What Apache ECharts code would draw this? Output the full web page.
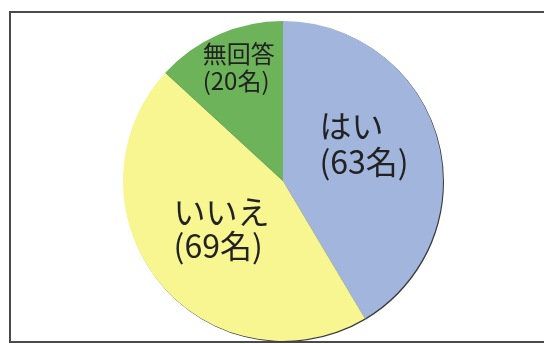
<!DOCTYPE html>
<html>
<head>
<meta charset="utf-8">
<script src="https://cdn.jsdelivr.net/npm/echarts@6/dist/echarts.min.js"></script>
<style>
  html, body { margin: 0; padding: 0; background: #fff; }
  #chart { width: 544px; height: 344px; }
</style>
</head>
<body>
<div id="chart"></div>
<script>
// Survey answers (people)
const categories = ['はい', 'いいえ', '無回答'];
const counts = [63, 69, 20];
const sliceColors = ['#a2b5dc', '#f8f690', '#6db35a'];

// Per-slice label nudges from the default inside position
const labelShift = [
  { dx: 1, dy: -15, size: 32, lh: 36 },
  { dx: 3, dy: -4, size: 32, lh: 34 },
  { dx: -11, dy: -38, size: 24, lh: 27 }
];

const pieData = categories.map((name, i) => {
  const s = labelShift[i];
  const line = { align: 'left', fontSize: s.size, lineHeight: s.lh, color: '#222222',
    fontFamily: '"Noto Sans CJK JP", "Noto Sans", sans-serif' };
  return {
    name: name,
    value: counts[i],
    itemStyle: { color: sliceColors[i] },
    label: { fontSize: s.size, lineHeight: s.lh, rich: { n: line, v: line } }
  };
});

const chart = echarts.init(document.getElementById('chart'), null, { renderer: 'canvas' });

chart.setOption({
  animation: false,
  backgroundColor: '#ffffff',
  graphic: [{
    type: 'rect',
    shape: { x: 10, y: 12, width: 600, height: 330 },
    style: { fill: 'none', stroke: '#4a4a4a', lineWidth: 2 },
    silent: true,
    z: 0
  }],
  series: [
    {
      // dark rim under the pie, offset to the lower right
      type: 'pie',
      silent: true,
      center: [284, 182],
      radius: 160,
      startAngle: 90,
      data: counts.map((v, i) => ({ name: categories[i], value: v })),
      itemStyle: { color: '#3a3a3a', borderWidth: 0 },
      label: { show: false },
      labelLine: { show: false },
      z: 1
    },
    {
      type: 'pie',
      center: [283, 181],
      radius: 160,
      startAngle: 90,
      clockwise: true,
      data: pieData,
      itemStyle: { borderWidth: 0 },
      label: {
        show: true,
        position: 'inside',
        formatter: '{n|{b}}\n{v|({c}名)}',
        verticalAlign: 'middle',
        color: '#222222',
        fontFamily: '"Noto Sans CJK JP", "Noto Sans", sans-serif'
      },
      labelLine: { show: false },
      labelLayout: function (params) {
        const s = labelShift[params.dataIndex];
        return { dx: s.dx, dy: s.dy };
      },
      emphasis: { disabled: true },
      z: 2
    }
  ]
});
</script>
</body>
</html>
